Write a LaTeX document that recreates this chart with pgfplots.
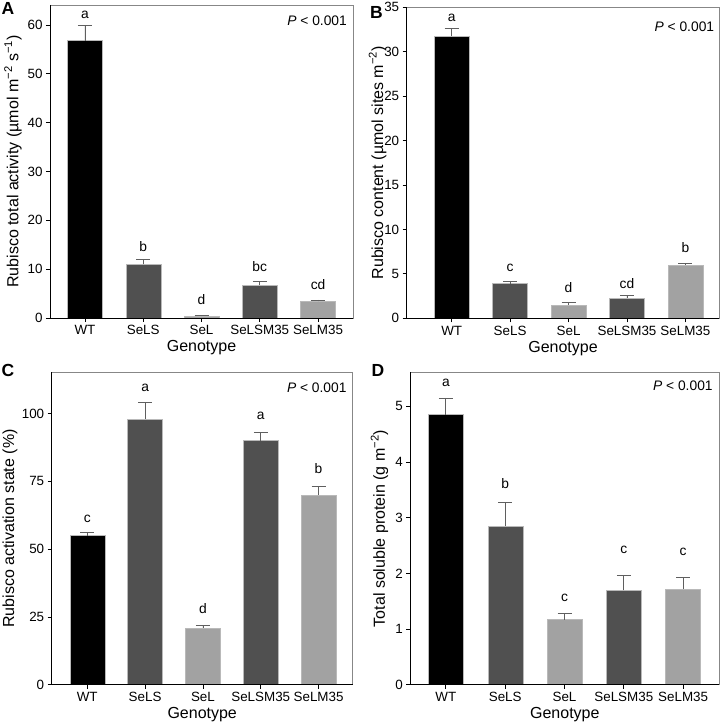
\documentclass[border=0pt]{standalone}
\usepackage{pgfplots}
\pgfplotsset{compat=1.18}
\usepackage{fontspec}
\setmainfont{Liberation Sans}

\definecolor{dk}{RGB}{80,80,80}
\definecolor{lt}{RGB}{162,162,162}
\definecolor{fr}{RGB}{135,135,135}
\definecolor{eb}{RGB}{95,95,95}

\pgfplotsset{
  panel/.style={
    scale only axis, anchor=south west, clip=false,
    xtick={0,...,4},
    xticklabels={WT,SeLS,SeL,SeLSM35,SeLM35},
    ymin=0,
    tick align=outside, tick pos=left,
    major tick length=4pt,
    axis line style={draw=fr, line width=0.8pt},
    tick style={black, line width=0.8pt},
    ticklabel style={font=\fontsize{13.4}{15}\selectfont},
    /pgf/number format/assume math mode=true,
    xlabel={Genotype},
    label style={font=\fontsize{16}{18}\selectfont},
    xlabel style={at={(rel axis cs:0.5,-0.096)}, anchor=center},
  },
  bb/.style={ybar, bar shift=0pt, bar width=35pt, draw=gray!55, line width=0.4pt,
    error bars/y dir=plus, error bars/y explicit,
    error bars/error bar style={eb, line width=0.8pt},
    error bars/error mark options={rotate=90, eb, mark size=7pt, line width=0.8pt}},
}
\tikzset{
  lab/.style={anchor=base, font=\fontsize{13.8}{16}\selectfont},
  pv/.style={anchor=north east, inner sep=0pt, font=\fontsize{13.8}{15}\selectfont},
  tag/.style={anchor=base west, inner sep=0pt, font=\fontsize{17.5}{20}\selectfont\bfseries},
}

\newcommand{\frameLB}{\draw[black, line width=0.9pt] (rel axis cs:0,1) -- (rel axis cs:0,0) -- (rel axis cs:1,0);}

\begin{document}
\begin{tikzpicture}[x=1pt,y=1pt]
\path[use as bounding box] (0,0) rectangle (722,727);

% A
\begin{axis}[panel, at={(50pt,409pt)}, width=303pt, height=313pt,
  xmin=-0.6, xmax=4.6, ymax=64.1, ytick={0,10,...,60},
  ylabel={Rubisco total activity (µmol m\textsuperscript{−2} s\textsuperscript{−1})},
  ylabel style={at={(rel axis cs:-0.122,0.5)}, anchor=center}]
\addplot[bb, fill=black] coordinates {(0,56.8) +- (0,3.2)};
\addplot[bb, fill=dk] coordinates {(1,11.0) +- (0,0.9)};
\addplot[bb, fill=lt] coordinates {(2,0.4) +- (0,0.2)};
\addplot[bb, fill=dk] coordinates {(3,6.8) +- (0,0.6)};
\addplot[bb, fill=lt] coordinates {(4,3.4) +- (0,0.3)};
\frameLB
\node[lab] at (axis cs:0,61.4) {a};
\node[lab] at (axis cs:1,13.6) {b};
\node[lab] at (axis cs:2,2.8) {d};
\node[lab] at (axis cs:3,9.6) {bc};
\node[lab] at (axis cs:4,5.8) {cd};
\node[pv] at ([xshift=-6pt,yshift=-10.5pt]rel axis cs:1,1) {\textit{P} < 0.001};
\end{axis}

% B
\begin{axis}[panel, at={(406.7pt,408.7pt)}, width=312.6pt, height=311pt,
  xmin=-0.77, xmax=4.58, ymax=35, ytick={0,5,...,35},
  ylabel={Rubisco content (µmol sites m\textsuperscript{−2})},
  ylabel style={at={(rel axis cs:-0.093,0.5)}, anchor=center}]
\addplot[bb, fill=black] coordinates {(0,31.8) +- (0,0.8)};
\addplot[bb, fill=dk] coordinates {(1,3.9) +- (0,0.3)};
\addplot[bb, fill=lt] coordinates {(2,1.5) +- (0,0.3)};
\addplot[bb, fill=dk] coordinates {(3,2.3) +- (0,0.3)};
\addplot[bb, fill=lt] coordinates {(4,6.0) +- (0,0.2)};
\frameLB
\node[lab] at (axis cs:0,33.4) {a};
\node[lab] at (axis cs:1,5.3) {c};
\node[lab] at (axis cs:2,2.9) {d};
\node[lab] at (axis cs:3,3.3) {cd};
\node[lab] at (axis cs:4,7.4) {b};
\node[pv] at ([xshift=-5pt,yshift=-14pt]rel axis cs:1,1) {\textit{P} < 0.001};
\end{axis}

% C
\begin{axis}[panel, at={(51.7pt,42.3pt)}, width=301pt, height=312.4pt,
  xmin=-0.615, xmax=4.59, ymax=115.2, ytick={0,25,50,75,100},
  ylabel={Rubisco activation state (\%)},
  ylabel style={at={(rel axis cs:-0.1385,0.5)}, anchor=center}]
\addplot[bb, fill=black] coordinates {(0,55) +- (0,1)};
\addplot[bb, fill=dk] coordinates {(1,98) +- (0,6)};
\addplot[bb, fill=lt] coordinates {(2,21) +- (0,1)};
\addplot[bb, fill=dk] coordinates {(3,90) +- (0,3)};
\addplot[bb, fill=lt] coordinates {(4,70) +- (0,3)};
\frameLB
\node[lab] at (axis cs:0,59.9) {c};
\node[lab] at (axis cs:1,108.1) {a};
\node[lab] at (axis cs:2,26.1) {d};
\node[lab] at (axis cs:3,97.9) {a};
\node[lab] at (axis cs:4,77.9) {b};
\node[pv] at ([xshift=-6pt,yshift=-10.5pt]rel axis cs:1,1) {\textit{P} < 0.001};
\end{axis}

% D
\begin{axis}[panel, at={(410.3pt,42.3pt)}, width=309pt, height=312.4pt,
  xmin=-0.6, xmax=4.61, ymax=5.61, ytick={0,...,5},
  ylabel={Total soluble protein (g m\textsuperscript{−2})},
  ylabel style={at={(rel axis cs:-0.1,0.5)}, anchor=center}]
\addplot[bb, fill=black] coordinates {(0,4.85) +- (0,0.30)};
\addplot[bb, fill=dk] coordinates {(1,2.85) +- (0,0.43)};
\addplot[bb, fill=lt] coordinates {(2,1.17) +- (0,0.11)};
\addplot[bb, fill=dk] coordinates {(3,1.70) +- (0,0.26)};
\addplot[bb, fill=lt] coordinates {(4,1.72) +- (0,0.20)};
\frameLB
\node[lab] at (axis cs:0,5.35) {a};
\node[lab] at (axis cs:1,3.53) {b};
\node[lab] at (axis cs:2,1.50) {c};
\node[lab] at (axis cs:3,2.35) {c};
\node[lab] at (axis cs:4,2.32) {c};
\node[pv] at ([xshift=-6.5pt,yshift=-8.5pt]rel axis cs:1,1) {\textit{P} < 0.001};
\end{axis}

\node[tag] at (1.5,712) {A};
\node[tag] at (370,708.7) {B};
\node[tag] at (1.5,350.3) {C};
\node[tag] at (371.5,350.3) {D};
\end{tikzpicture}
\end{document}
